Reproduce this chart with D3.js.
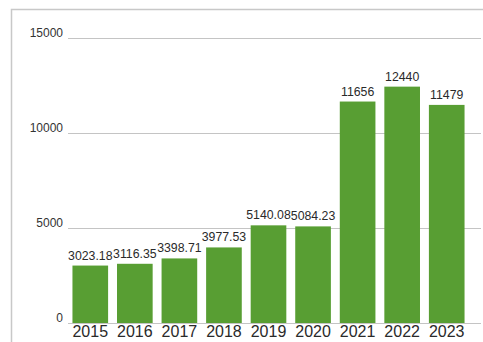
<!DOCTYPE html>
<html><head><meta charset="utf-8">
<script src="https://cdn.jsdelivr.net/npm/d3@7"></script>
<style>html,body{margin:0;padding:0;background:#fff;overflow:hidden}</style>
</head><body>
<script>
const categories = ["2015","2016","2017","2018","2019","2020","2021","2022","2023"];
const values = [3023.18, 3116.35, 3398.71, 3977.53, 5140.08, 5084.23, 11656, 12440, 11479];
const valueLabels = ["3023.18","3116.35","3398.71","3977.53","5140.08","5084.23","11656","12440","11479"];
const yTicks = [0, 5000, 10000, 15000];

const W = 483, H = 342;
const svg = d3.select("body").append("svg").attr("width", W).attr("height", H);

// frame
svg.append("path").attr("d", "M11.5,342 V9.5 H483").attr("fill","none").attr("stroke","#c8c8c8").attr("stroke-width",1.5);

const x = d3.scaleBand().domain(categories).range([68, 469]).paddingInner(0.2).paddingOuter(0.1);
const y = d3.scaleLinear().domain([0, 15000]).range([323, 38]);

const font = "Arial, 'Liberation Sans', sans-serif";

// gridlines
svg.append("g").selectAll("line").data(yTicks).join("line")
  .attr("x1", 68).attr("x2", 481)
  .attr("y1", d => Math.round(y(d)) + 0.5).attr("y2", d => Math.round(y(d)) + 0.5)
  .attr("stroke", "#c4c4c4").attr("stroke-width", 1);

// y tick labels
svg.append("g").selectAll("text").data(yTicks).join("text")
  .attr("x", 63).attr("y", d => Math.round(y(d)) - 1)
  .attr("text-anchor", "end").attr("font-family", font).attr("font-size", 12)
  .attr("fill", "#333").text(d => d);

// bars
svg.append("g").selectAll("rect").data(values).join("rect")
  .attr("x", (d, i) => x(categories[i]))
  .attr("width", x.bandwidth())
  .attr("y", d => y(d))
  .attr("height", d => y(0) - y(d))
  .attr("fill", "#589e33");

// value labels
svg.append("g").selectAll("text").data(values).join("text")
  .attr("x", (d, i) => x(categories[i]) + x.bandwidth() / 2)
  .attr("y", d => y(d) - 6)
  .attr("text-anchor", "middle").attr("font-family", font).attr("font-size", 12.3)
  .attr("fill", "#2a2a2a").text((d, i) => valueLabels[i]);

// x axis labels
svg.append("g").selectAll("text").data(categories).join("text")
  .attr("x", d => x(d) + x.bandwidth() / 2)
  .attr("y", 337)
  .attr("text-anchor", "middle").attr("font-family", font).attr("font-size", 16)
  .attr("fill", "#2a2a2a").text(d => d);
</script>
</body></html>
